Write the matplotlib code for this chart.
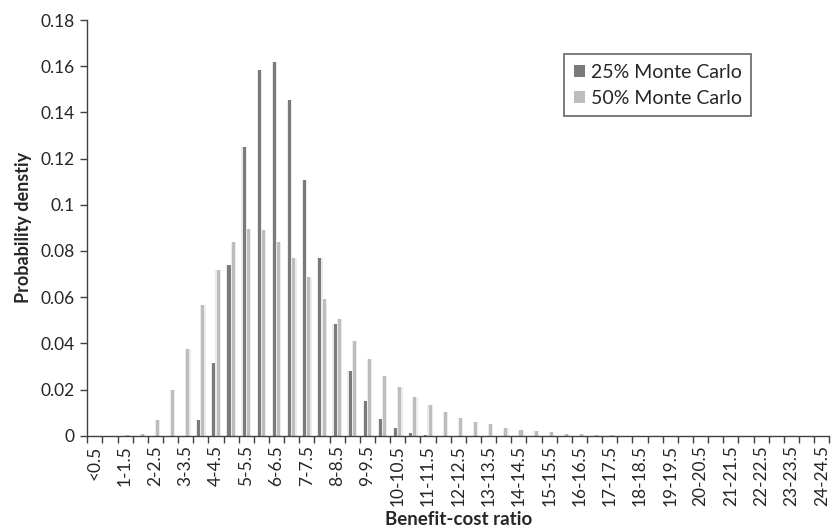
import matplotlib
matplotlib.use("Agg")
import matplotlib.pyplot as plt
import numpy as np
from matplotlib.ticker import FuncFormatter, FixedLocator
from matplotlib.patches import Patch

plt.rcParams['font.family'] = ['Lato', 'DejaVu Sans']

# Categories
categories = ["<0.5"] + [
    (f"{a:g}-{a + 0.5:g}") for a in np.arange(0.5, 24.5, 0.5)
]

mc25 = [0, 0, 0, 0, 0, 0, 0, 0.0068, 0.0315, 0.0738,
        0.125, 0.1583, 0.1619, 0.1455, 0.1107, 0.0769, 0.0484, 0.0281, 0.0151, 0.0072,
        0.0033, 0.0013, 0.0004, 0, 0, 0, 0, 0, 0, 0,
        0, 0, 0, 0, 0, 0, 0, 0, 0, 0,
        0, 0, 0, 0, 0, 0, 0, 0, 0]
mc50 = [0, 0, 0.0002, 0.0008, 0.0068, 0.0198, 0.0375, 0.0566, 0.0717, 0.0837,
        0.0896, 0.089, 0.0837, 0.0771, 0.0689, 0.0593, 0.0505, 0.0411, 0.0332, 0.0258,
        0.0212, 0.0166, 0.0134, 0.0101, 0.0078, 0.0058, 0.0049, 0.0033, 0.0025, 0.002,
        0.0015, 0.0009, 0.0007, 0.0004, 0.0002, 0, 0, 0, 0, 0,
        0, 0, 0, 0, 0, 0, 0, 0, 0]

series_labels = ["25% Monte Carlo", "50% Monte Carlo"]
dark = "#7a7a7a"
light = "#bdbdbd"
halo = "#ebebeb"

fig = plt.figure(figsize=(8.31, 5.32), dpi=100)
ax = fig.add_axes([0.105, 0.181, 0.893, 0.7814])

x = np.arange(len(categories))
w = 0.2
off = 0.14
# soft halo behind bars
ax.bar(x - off, mc25, width=w + 0.16, color=halo, zorder=1)
ax.bar(x + off, mc50, width=w + 0.16, color=halo, zorder=1)
ax.bar(x - off, mc25, width=w, color=dark, zorder=2, label=series_labels[0])
ax.bar(x + off, mc50, width=w, color=light, zorder=2, label=series_labels[1])

ax.set_xlim(-0.5, len(categories) - 0.5)
ax.set_ylim(0, 0.18)
ax.set_yticks(np.arange(0, 0.181, 0.02))
ax.yaxis.set_major_formatter(FuncFormatter(lambda v, p: f"{round(v, 2):g}"))

ax.set_xticks(x[::2])
ax.set_xticklabels(categories[::2], rotation=90)
ax.xaxis.set_minor_locator(FixedLocator(np.arange(-0.5, len(categories), 1.0)))
ax.tick_params(axis='x', which='major', length=0, pad=7, labelsize=12.5, colors='#262626')
ax.tick_params(axis='x', which='minor', length=5, width=1, color='#404040')
ax.tick_params(axis='y', which='major', length=5, width=1, color='#404040', labelsize=12.5, labelcolor='#262626', pad=4)

for s in ['top', 'right']:
    ax.spines[s].set_visible(False)
for s in ['left', 'bottom']:
    ax.spines[s].set_color('#404040')
    ax.spines[s].set_linewidth(1)

ax.set_xlabel("Benefit-cost ratio", fontsize=13.5, fontweight='bold', color='#262626', labelpad=3)
ax.set_ylabel("Probability denstiy", fontsize=13, fontweight='bold', color='#262626', labelpad=6)

handles = [Patch(facecolor=dark, edgecolor='none'), Patch(facecolor=light, edgecolor='none')]
leg = ax.legend(handles, series_labels, loc='upper left', bbox_to_anchor=(0.643, 0.918),
                frameon=True, fancybox=False, fontsize=14, handlelength=0.55, handleheight=0.55,
                handletextpad=0.3, borderpad=0.5, labelspacing=0.45, borderaxespad=0)
leg.get_frame().set_edgecolor('#404040')
leg.get_frame().set_linewidth(1.2)
for t in leg.get_texts():
    t.set_color('#262626')

fig.savefig("out.png", dpi=100)
